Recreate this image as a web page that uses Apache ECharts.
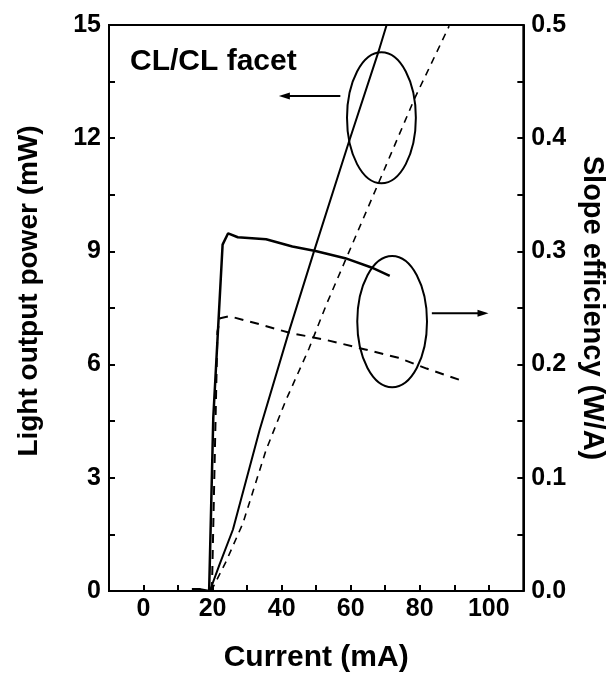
<!DOCTYPE html>
<html>
<head>
<meta charset="utf-8">
<title>CL/CL facet</title>
<script src="https://cdn.jsdelivr.net/npm/echarts@6/dist/echarts.min.js"></script>
<style>
  html, body { margin: 0; padding: 0; background: #fff; }
  #chart { width: 614px; height: 678px; }
</style>
</head>
<body>
<div id="chart"></div>
<script>
// current (mA) vs light output power (mW), left axis
const powerSolid = [[14, 0.05], [16.5, 0.05], [19.2, 0], [22, 0.7], [25.9, 1.63], [33.6, 4.26], [42.2, 6.9], [49.3, 8.98], [59.4, 11.88], [68, 14.28], [70.4, 15]];
const powerDashed = [[19.6, 0], [24, 0.8], [28.8, 1.8], [35.5, 3.74], [41.2, 5.05], [47.9, 6.42], [53, 7.6], [68, 10.8], [78.5, 13.05], [88.5, 14.97]];
// current (mA) vs slope efficiency (W/A), right axis
const slopeSolid = [[19, 0], [20.2, 0.153], [22.9, 0.306], [24.5, 0.316], [27.3, 0.3125], [35.5, 0.3107], [43.1, 0.3043], [49.8, 0.3004], [58.4, 0.294], [66, 0.2858], [71.3, 0.2784]];
const slopeDashed = [[19.8, 0], [21.4, 0.229], [22.2, 0.241], [24.9, 0.2427], [32, 0.237], [42.4, 0.228], [52.6, 0.222], [64.2, 0.2134], [73.8, 0.206], [82, 0.1965], [91.6, 0.1864]];

const xTicks = [0, 20, 40, 60, 80, 100];
const leftTicks = [0, 3, 6, 9, 12, 15];
const rightTicks = [0, 0.1, 0.2, 0.3, 0.4, 0.5];

// annotation: ellipses [cx, cy, rx, ry] and arrows [x1, y1, x2, y2] in left-axis units
const ellipses = [[68.9, 12.54, 9.97, 1.735], [72.0, 7.14, 10.1, 1.74]];
const arrows = [[57, 13.12, 39.2, 13.12], [83.5, 7.36, 99.9, 7.36]];

const font = "'Liberation Sans', Arial, Helvetica, sans-serif";

const chart = echarts.init(document.getElementById('chart'));

const lineBase = {
  type: 'line',
  symbol: 'none',
  smooth: false,
  silent: true,
  animation: false
};

chart.setOption({
  animation: false,
  backgroundColor: '#fff',
  textStyle: { fontFamily: font },
  grid: {
    left: 109, right: 88, top: 25, bottom: 83,
    show: true, borderColor: '#000', borderWidth: 2
  },
  xAxis: {
    type: 'value',
    min: -10, max: 110,
    interval: 10,
    name: 'Current (mA)',
    nameLocation: 'middle',
    nameGap: 52,
    nameTextStyle: { fontSize: 30, fontWeight: 'bold', color: '#000', fontFamily: font },
    axisLine: { show: true, onZero: false, lineStyle: { color: '#000', width: 2 } },
    axisTick: { show: true, inside: true, length: 6, lineStyle: { color: '#000', width: 2 } },
    axisLabel: {
      margin: 6, fontSize: 25, fontWeight: 'bold', color: '#000', fontFamily: font,
      formatter: v => xTicks.includes(v) ? String(v) : ''
    },
    splitLine: { show: false }
  },
  yAxis: [
    {
      type: 'value',
      min: 0, max: 15, interval: 1.5,
      name: 'Light output power (mW)',
      nameLocation: 'middle',
      nameGap: 66,
      nameTextStyle: { fontSize: 28, fontWeight: 'bold', color: '#000', fontFamily: font, padding: [0, 0, 0, 34] },
      axisLine: { show: true, onZero: false, lineStyle: { color: '#000', width: 2 } },
      axisTick: { show: true, inside: true, length: 6, lineStyle: { color: '#000', width: 2 } },
      axisLabel: {
        margin: 8, fontSize: 25, fontWeight: 'bold', color: '#000', fontFamily: font,
        formatter: v => leftTicks.some(t => Math.abs(t - v) < 1e-6) ? String(Math.round(v)) : ''
      },
      splitLine: { show: false }
    },
    {
      type: 'value',
      min: 0, max: 0.5, interval: 0.05,
      position: 'right',
      name: 'Slope efficiency (W/A)',
      nameLocation: 'middle',
      nameRotate: -90,
      nameGap: 52,
      nameTextStyle: { fontSize: 29, fontWeight: 'bold', color: '#000', fontFamily: font },
      axisLine: { show: true, onZero: false, lineStyle: { color: '#000', width: 2 } },
      axisTick: { show: true, inside: true, length: 6, lineStyle: { color: '#000', width: 2 } },
      axisLabel: {
        margin: 8, fontSize: 25, fontWeight: 'bold', color: '#000', fontFamily: font,
        formatter: v => rightTicks.some(t => Math.abs(t - v) < 1e-6) ? v.toFixed(1) : ''
      },
      splitLine: { show: false }
    }
  ],
  graphic: [
    {
      type: 'text',
      left: 130,
      top: 47,
      style: { text: 'CL/CL facet', fontSize: 30, fontWeight: 'bold', fill: '#000', fontFamily: font }
    }
  ],
  series: [
    Object.assign({}, lineBase, {
      name: 'power CL',
      yAxisIndex: 0,
      data: powerSolid,
      lineStyle: { color: '#000', width: 2 }
    }),
    Object.assign({}, lineBase, {
      name: 'power ref',
      yAxisIndex: 0,
      data: powerDashed,
      lineStyle: { color: '#000', width: 1.6, type: [7, 6] }
    }),
    Object.assign({}, lineBase, {
      name: 'slope CL',
      yAxisIndex: 1,
      data: slopeSolid,
      lineStyle: { color: '#000', width: 2.5 }
    }),
    Object.assign({}, lineBase, {
      name: 'slope ref',
      yAxisIndex: 1,
      data: slopeDashed,
      lineStyle: { color: '#000', width: 2, type: [9, 7] }
    }),
    {
      type: 'custom',
      name: 'ellipses',
      xAxisIndex: 0,
      yAxisIndex: 0,
      silent: true,
      animation: false,
      data: ellipses,
      renderItem: function (params, api) {
        const c = api.coord([api.value(0), api.value(1)]);
        const s = api.size([api.value(2), api.value(3)]);
        return {
          type: 'ellipse',
          shape: { cx: c[0], cy: c[1], rx: s[0], ry: s[1] },
          style: { fill: 'none', stroke: '#000', lineWidth: 2 }
        };
      }
    },
    {
      type: 'custom',
      name: 'arrows',
      xAxisIndex: 0,
      yAxisIndex: 0,
      silent: true,
      animation: false,
      data: arrows,
      renderItem: function (params, api) {
        const a = api.coord([api.value(0), api.value(1)]);
        const b = api.coord([api.value(2), api.value(3)]);
        const dir = b[0] > a[0] ? 1 : -1;
        const headLen = 11, headW = 3.5;
        return {
          type: 'group',
          children: [
            {
              type: 'line',
              shape: { x1: a[0], y1: a[1], x2: b[0] - dir * headLen * 0.6, y2: b[1] },
              style: { stroke: '#000', lineWidth: 2 }
            },
            {
              type: 'polygon',
              shape: { points: [[b[0], b[1]], [b[0] - dir * headLen, b[1] - headW], [b[0] - dir * headLen, b[1] + headW]] },
              style: { fill: '#000' }
            }
          ]
        };
      }
    }
  ]
});
</script>
</body>
</html>
